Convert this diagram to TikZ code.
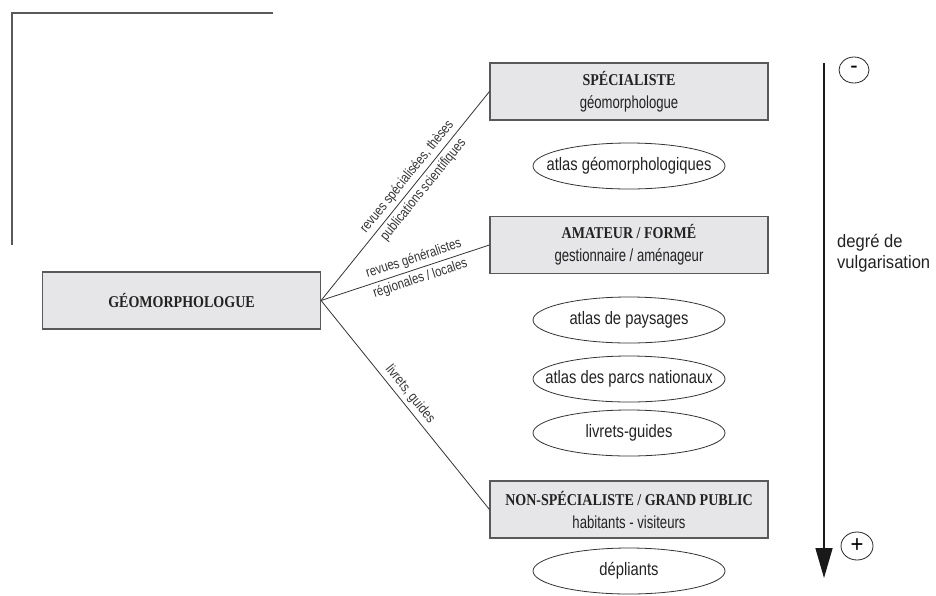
\documentclass[tikz,border=0pt]{standalone}
\usepackage{fontspec}
\setmainfont{Liberation Serif}
\newfontfamily\ttlfam[FakeStretch=0.85]{Liberation Serif}
\newfontfamily\nar[FakeStretch=0.75]{Liberation Sans}
\newfontfamily\narl[FakeStretch=0.82]{Liberation Sans}
\newfontfamily\narr[FakeStretch=0.92]{Liberation Sans}
\usetikzlibrary{shapes.geometric,arrows.meta}
\newcommand\ttlf{\ttlfam\bfseries\fontsize{16.5}{23}\selectfont}
\newcommand\subf{\nar\fontsize{17.5}{23}\selectfont}
\definecolor{boxfill}{HTML}{E6E6E8}
\definecolor{ink}{HTML}{222222}
\begin{document}
\begin{tikzpicture}[x=1pt,y=-1pt,
  box/.style={draw=black!65, line width=1.1pt, fill=boxfill, minimum width=278pt, minimum height=57pt, inner sep=0pt, align=center, font=\fontsize{16}{23}\selectfont, text=ink},
  oval/.style={ellipse, draw=black!80, line width=0.8pt, minimum width=192pt, minimum height=46pt, inner sep=0pt, font=\narl\fontsize{18}{18}\selectfont, text=ink},
  conn/.style={draw=black!80, line width=0.8pt},
  lab/.style={font=\narl\fontsize{14}{14}\selectfont, sloped, inner sep=3.5pt, text=black!80},
  sign/.style={ellipse, draw=black!85, line width=0.8pt, inner sep=0pt, font=\narr\fontsize{24}{24}\selectfont}
]
\path[use as bounding box] (0,0) rectangle (936,595);
% corner frame
\draw[line width=1.1pt, black!65] (273,13) -- (12,13) -- (12,245);

% boxes
\node[box] (geo) at (181.5,300.5) {{\ttlf GÉOMORPHOLOGUE}};
\node[box] (spec) at (629,91.5) {{\ttlf SPÉCIALISTE}\\{\subf géomorphologue}};
\node[box] (amat) at (629,245) {{\ttlf AMATEUR / FORMÉ}\\{\subf gestionnaire / aménageur}};
\node[box] (nons) at (629,509.5) {{\ttlf NON-SPÉCIALISTE / GRAND PUBLIC}\\{\subf habitants - visiteurs}};

% ovals
\node[oval] (o1) at (629,166) {\makebox[0pt]{atlas géomorphologiques}};
\node[oval] (o2) at (629,320) {\makebox[0pt]{atlas de paysages}};
\node[oval] (o3) at (629,379) {\makebox[0pt]{atlas des parcs nationaux}};
\node[oval] (o4) at (629,433) {\makebox[0pt]{livrets-guides}};
\node[oval] (o5) at (629,571) {\makebox[0pt]{dépliants}};

% connectors
\draw[conn] (geo.east) -- node[lab, above, pos=0.56] {revues spécialisées, thèses}
                           node[lab, below, pos=0.56] {publications scientifiques} (spec.west);
\draw[conn] (geo.east) -- node[lab, above, pos=0.57] {revues généralistes}
                           node[lab, below, pos=0.57] {régionales / locales} (amat.west);
\draw[conn] (geo.east) -- node[lab, above, pos=0.48] {livrets, guides} (nons.west);

% scale arrow
\coordinate (vtop) at (824,63);
\coordinate (vbot) at (824,578);
\draw[line width=1.6pt, black!90, -{Triangle[width=17pt,length=30pt]}] (vtop) -- (vbot);
\node[sign, minimum width=30pt, minimum height=26pt] (minus) at (854,70) {\makebox[0pt]{\raisebox{1pt}{-}}};
\node[sign, minimum width=32pt, minimum height=28pt] (plus) at (857,546) {\makebox[0pt]{+}};
\node[anchor=base west, align=left, inner sep=0pt, font=\narr\fontsize{18}{21}\selectfont, text=ink] (deg) at (837,268) {degré de\\vulgarisation};
\end{tikzpicture}
\end{document}
